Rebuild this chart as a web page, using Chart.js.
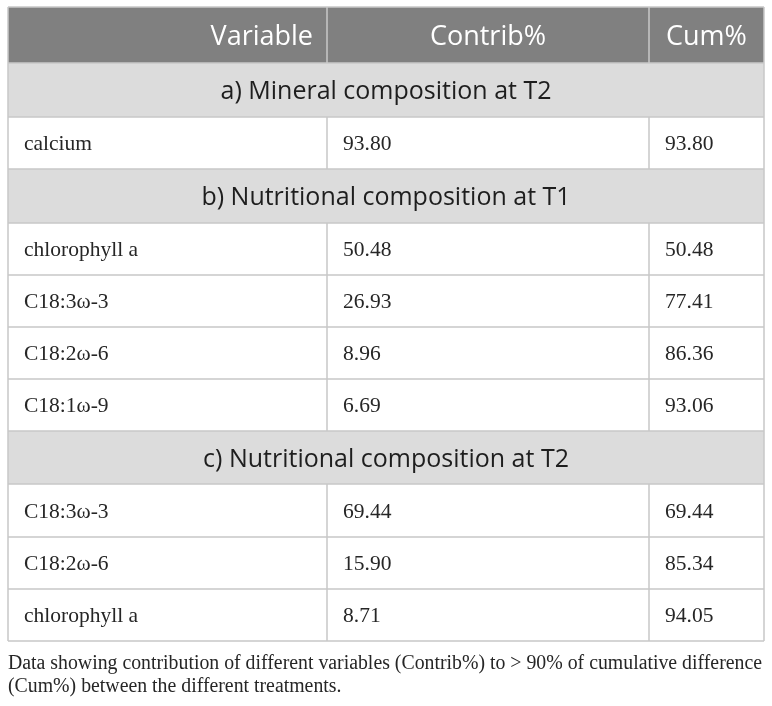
<!DOCTYPE html>
<html><head><meta charset="utf-8">
<script src="https://cdn.jsdelivr.net/npm/chart.js@4.4.1/dist/chart.umd.min.js"></script>
<style>html,body{margin:0;padding:0;background:#fff}#wrap{width:772px;height:706px;position:relative}</style>
</head><body><div id="wrap"><canvas id="c"></canvas></div>
<script>
// ---- data ----
const columnHeaders = ['Variable', 'Contrib%', 'Cum%'];
const sectionTitles = ['a) Mineral composition at T2', 'b) Nutritional composition at T1', 'c) Nutritional composition at T2'];
const variablesA = ['calcium'];
const contribA = [93.80];
const cumA = [93.80];
const variablesB = ['chlorophyll a', 'C18:3\u03c9-3', 'C18:2\u03c9-6', 'C18:1\u03c9-9'];
const contribB = [50.48, 26.93, 8.96, 6.69];
const cumB = [50.48, 77.41, 86.36, 93.06];
const variablesC = ['C18:3\u03c9-3', 'C18:2\u03c9-6', 'chlorophyll a'];
const contribC = [69.44, 15.90, 8.71];
const cumC = [69.44, 85.34, 94.05];
const captionLines = [
  'Data showing contribution of different variables (Contrib%) to > 90% of cumulative difference',
  '(Cum%) between the different treatments.'
];

// ---- layout (table units: pixels of table) ----
const LAYOUT = {
  colEdges: [0, 319, 641, 756],
  rowHeights: [56, 54, 52, 54, 52, 52, 52, 52, 53, 53, 52, 52],
  pad: 16
};

const groups = [[variablesA, contribA, cumA], [variablesB, contribB, cumB], [variablesC, contribC, cumC]];
const rows = [{kind: 'header', cells: columnHeaders}];
groups.forEach((g, i) => {
  rows.push({kind: 'section', text: sectionTitles[i]});
  g[0].forEach((v, j) => rows.push({kind: 'data', cells: [v, g[1][j].toFixed(2), g[2][j].toFixed(2)]}));
});
const rowEdges = [0];
LAYOUT.rowHeights.forEach(h => rowEdges.push(rowEdges[rowEdges.length - 1] + h));
const totalH = rowEdges[rowEdges.length - 1];
const totalW = LAYOUT.colEdges[LAYOUT.colEdges.length - 1];

const tablePlugin = {
  id: 'tablePlugin',
  afterDraw(chart) {
    const ctx = chart.ctx;
    const xs = chart.scales.x, ys = chart.scales.y;
    const px = v => xs.getPixelForValue(v);
    const py = v => ys.getPixelForValue(v);
    const ce = LAYOUT.colEdges;
    ctx.save();
    rows.forEach((r, i) => {
      const top = py(rowEdges[i]), bot = py(rowEdges[i + 1]);
      const mid = (top + bot) / 2;
      ctx.fillStyle = r.kind === 'header' ? '#808080' : (r.kind === 'section' ? '#dcdcdc' : '#ffffff');
      ctx.fillRect(px(0), top, px(totalW) - px(0), bot - top);
      if (r.kind === 'header') {
        const fs = 27;
        ctx.font = fs + 'px "Open Sans"';
        ctx.fillStyle = '#ffffff';
        ctx.textBaseline = 'alphabetic';
        const base = mid + fs * 0.36;
        ctx.textAlign = 'right';
        ctx.fillText(r.cells[0], px(ce[1]) - 14, base);
        ctx.textAlign = 'center';
        ctx.fillText(r.cells[1], (px(ce[1]) + px(ce[2])) / 2, base);
        ctx.fillText(r.cells[2], (px(ce[2]) + px(ce[3])) / 2, base);
      } else if (r.kind === 'section') {
        const fs = 25;
        ctx.font = fs + 'px "Open Sans"';
        ctx.fillStyle = '#1e1e1e';
        ctx.textAlign = 'center';
        ctx.textBaseline = 'alphabetic';
        ctx.fillText(r.text, (px(0) + px(totalW)) / 2, mid + fs * 0.36);
      } else {
        const fs = 21.5;
        ctx.font = fs + 'px "Liberation Serif"';
        ctx.fillStyle = '#262626';
        ctx.textAlign = 'left';
        ctx.textBaseline = 'alphabetic';
        r.cells.forEach((t, k) => ctx.fillText(t, px(ce[k]) + LAYOUT.pad, mid + fs * 0.33));
      }
    });
    // borders
    ctx.strokeStyle = '#c8c8c8';
    ctx.lineWidth = 1.5;
    ctx.beginPath();
    rowEdges.forEach(e => { const y = py(e); ctx.moveTo(px(0), y); ctx.lineTo(px(totalW), y); });
    ctx.moveTo(px(0), py(0)); ctx.lineTo(px(0), py(totalH));
    ctx.moveTo(px(totalW), py(0)); ctx.lineTo(px(totalW), py(totalH));
    rows.forEach((r, i) => {
      if (r.kind === 'section') return;
      for (let k = 1; k < ce.length - 1; k++) {
        ctx.moveTo(px(ce[k]), py(rowEdges[i])); ctx.lineTo(px(ce[k]), py(rowEdges[i + 1]));
      }
    });
    ctx.stroke();
    // caption (slightly condensed serif to match the reference typeface)
    ctx.fillStyle = '#262626';
    ctx.textAlign = 'left';
    ctx.textBaseline = 'alphabetic';
    ctx.font = '20px "Liberation Serif"';
    const w = ctx.measureText(captionLines[0]).width;
    const sx = (px(totalW) - px(0) - 2) / w;
    const capTop = py(totalH);
    ctx.save();
    ctx.translate(px(0), 0);
    ctx.scale(sx, 1);
    ctx.fillText(captionLines[0], 0, capTop + 28);
    ctx.fillText(captionLines[1], 0, capTop + 51);
    ctx.restore();
    ctx.restore();
  }
};

new Chart(document.getElementById('c'), {
  type: 'scatter',
  data: {datasets: []},
  options: {
    responsive: true,
    maintainAspectRatio: false,
    animation: false,
    layout: {padding: {left: 8, top: 7, right: 8, bottom: 65}},
    scales: {
      x: {type: 'linear', min: 0, max: totalW, display: false},
      y: {type: 'linear', min: 0, max: totalH, reverse: true, display: false}
    },
    plugins: {legend: {display: false}, tooltip: {enabled: false}}
  },
  plugins: [tablePlugin]
});
</script>
</body></html>
